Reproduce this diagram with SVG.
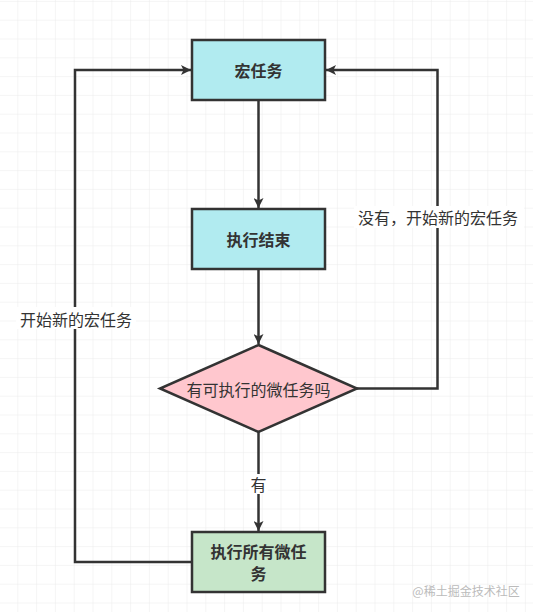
<svg xmlns="http://www.w3.org/2000/svg" width="533" height="612" viewBox="0 0 533 612">
<style>
.node{stroke:#333;stroke-width:2.5}
.lbl{font-family:"Noto Sans CJK SC","Liberation Sans",sans-serif;font-size:16px;fill:#333;text-anchor:middle;dominant-baseline:central}
.b{font-weight:bold}
.edge{fill:none;stroke:#333;stroke-width:2.5}
</style>
<defs>
<pattern id="grid" width="18.8" height="18.8" patternUnits="userSpaceOnUse" x="-0.5" y="1.9">
<path d="M18.8 0V18.8H0" fill="none" stroke="#ebebeb" stroke-width="1"/>
</pattern>
<marker id="ah" viewBox="0 0 10 10" refX="10" refY="5" markerWidth="10" markerHeight="10" markerUnits="userSpaceOnUse" orient="auto">
<path d="M0 0L10 5L0 10L2.5 5Z" fill="#333"/>
</marker>
</defs>
<rect width="533" height="612" fill="#fff"/>
<rect width="533" height="612" fill="url(#grid)"/>
<g id="connectors">
<path class="edge" d="M258.5 100V208" marker-end="url(#ah)"/>
<path class="edge" d="M258.5 269V344" marker-end="url(#ah)"/>
<path class="edge" d="M258.5 432V531" marker-end="url(#ah)"/>
<path class="edge" d="M192 562H75V70H191" marker-end="url(#ah)"/>
<path class="edge" d="M357 388.5H437.5V70H326" marker-end="url(#ah)"/>
<rect x="354" y="206" width="170" height="22" fill="#fff"/>
<text class="lbl" x="438" y="217">没有，开始新的宏任务</text>
<rect x="16" y="307" width="120" height="22" fill="#fff"/>
<text class="lbl" x="76" y="318.5">开始新的宏任务</text>
<rect x="249" y="474" width="19" height="20" fill="#fff"/>
<text class="lbl" x="258.5" y="484">有</text>
</g>
<g id="macro">
<rect class="node" x="192" y="40" width="133" height="60" fill="#b1ebf0"/>
<text class="lbl b" x="258.5" y="70">宏任务</text>
</g>
<g id="done">
<rect class="node" x="192" y="209" width="133" height="60" fill="#b1ebf0"/>
<text class="lbl b" x="258.5" y="239">执行结束</text>
</g>
<g id="check">
<path class="node" d="M258.5 345L357 388.5L258.5 432L160 388.5Z" fill="#ffc7ce"/>
<text class="lbl" x="258.5" y="388.5">有可执行的微任务吗</text>
</g>
<g id="micro">
<rect class="node" x="192" y="532" width="133" height="60" fill="#c6e6c9"/>
<text class="lbl b" x="258.5" y="551">执行所有微任<tspan x="258.5" dy="22">务</tspan></text>
</g>
<text x="466" y="590" style="font-family:'Noto Sans CJK SC',sans-serif;font-size:12px;fill:#bbb;text-anchor:middle;dominant-baseline:central">@稀土掘金技术社区</text>
</svg>
